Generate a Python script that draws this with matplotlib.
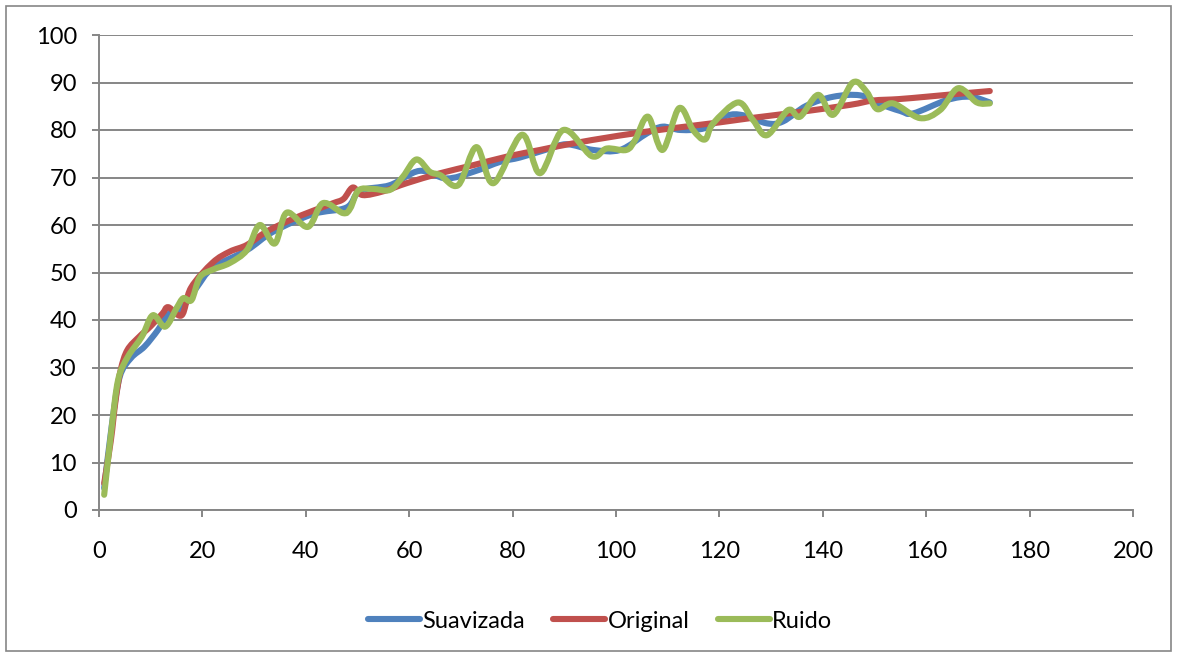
import numpy as np
import matplotlib
matplotlib.use("Agg")
import matplotlib.pyplot as plt
from matplotlib.path import Path
from matplotlib.patches import PathPatch, Rectangle
from matplotlib.lines import Line2D

plt.rcParams['font.family'] = ['Lato', 'DejaVu Sans']

# Series values (x, y)
suav_x = [1, 2.5, 4, 6.2, 8.8, 11.4, 13.4, 16, 18.8, 22, 28.6, 33.7, 41.4, 47.9, 50.5,
          56.3, 62, 67.2, 72.4, 77.6, 81.4, 86.6, 90.5, 95.6, 100.8, 106, 109, 112.5,
          117.2, 121.4, 124.6, 129.2, 132.3, 136.8, 142, 147.2, 150.7, 155, 157.5, 164,
          168.5, 172.3]
suav_y = [4.6, 18, 28, 32, 34.4, 37.9, 41.2, 42.5, 46.7, 51, 54.7, 58.6, 62.3, 63.7, 67.2,
          68.4, 71.4, 69.8, 71.2, 73.3, 74.2, 75.9, 77.0, 75.8, 75.8, 79.3, 80.7, 80,
          80.4, 83.0, 83.1, 81.4, 81.8, 85.1, 87, 87.3, 85.6, 84, 83.5, 86.3,
          87, 85.8]

orig_x = [1, 2.3, 3.2, 4.2, 5.5, 7.8, 10, 12.3, 13.4, 16, 17.8, 22, 25.3, 28.6, 32.4,
          36.9, 41.4, 45.3, 47.3, 49.1, 51, 55, 59.5, 66, 72.4, 78.9, 85.3, 90.8, 100.5,
          110.4, 120, 126, 135.6, 145.3, 149.7, 154.6, 160, 166, 172.3]
orig_y = [5.6, 14.7, 23, 29.5, 33.7, 36.5, 38.7, 41.4, 42.7, 41.0, 46.8, 52.1, 54.4, 55.8, 58.6,
          61, 63, 64.6, 65.5, 67.9, 66.3, 67.1, 68.8, 70.9, 72.6, 74.4, 75.8, 77.0, 78.8,
          80.3, 81.6, 82.5, 83.8, 85.3, 86.2, 86.5, 87, 87.6, 88.2]

ruido_x = [1, 2.4, 3.7, 5.6, 8.3, 10.4, 12.8, 15, 16.3, 17.9, 19.5, 22, 25.3, 28.6, 31.1,
           34, 36.3, 40.4, 43.3, 47.2, 48.6, 50.2, 53, 56.3, 58.8, 61.4, 64, 66, 69.5,
           73, 76.3, 81.8, 85.3, 89.8, 95.3, 98.2, 102, 103.7, 106.2, 109, 112.2, 114.9,
           117.2, 118.8, 123.6, 126.5, 129.2, 133.3, 135.6, 139.1, 142, 145.8, 148.5,
           150.5, 153.6, 158.8, 162.7, 166.2, 169.8, 172.3]
ruido_y = [3.2, 16.8, 27.4, 32.3, 36.5, 41, 38.6, 42.5, 44.6, 44.2, 49, 50.6, 52, 54.7, 60,
           56.1, 62.6, 59.6, 64.6, 62.5, 63.5, 67.3, 67.6, 67.4, 70.2, 73.8, 71.2, 70.5, 68.4,
           76.4, 68.8, 79, 70.9, 80, 74.5, 76.1, 75.8, 77.9, 82.8, 75.8, 84.6, 80,
           78, 81.4, 85.8, 82.1, 78.9, 84.2, 82.8, 87.4, 83.2, 90, 88,
           84.4, 85.6, 82.5, 84.2, 88.8, 85.8, 85.6]

series = [("Suavizada", suav_x, suav_y, "#4F81BD"),
          ("Original", orig_x, orig_y, "#C0504D"),
          ("Ruido", ruido_x, ruido_y, "#9BBB59")]

x_ticks = list(range(0, 201, 20))
y_ticks = list(range(0, 101, 10))
GRAY = "#868686"


def smooth_path(xs, ys):
    """Cubic Bezier through every point (Catmull-Rom style tangents)."""
    pts = np.column_stack([xs, ys]).astype(float)
    n = len(pts)
    verts = [pts[0]]
    codes = [Path.MOVETO]
    for i in range(n - 1):
        p0 = pts[i - 1] if i > 0 else pts[i]
        p1 = pts[i]
        p2 = pts[i + 1]
        p3 = pts[i + 2] if i + 2 < n else pts[i + 1]
        verts += [p1 + (p2 - p0) / 6.0, p2 - (p3 - p1) / 6.0, p2]
        codes += [Path.CURVE4] * 3
    return Path(verts, codes)


fig = plt.figure(figsize=(11.77, 6.55), dpi=100)
ax = fig.add_axes([99 / 1177, 1 - 510 / 655, (1133 - 99) / 1177, (510 - 35) / 655])

ax.set_xlim(0, 200)
ax.set_ylim(0, 100)
ax.set_xticks(x_ticks)
ax.set_yticks(y_ticks)
ax.yaxis.grid(True, color=GRAY, lw=1.4)
ax.set_axisbelow(True)
for s in ("top", "right"):
    ax.spines[s].set_visible(False)
for s in ("left", "bottom"):
    ax.spines[s].set_color(GRAY)
    ax.spines[s].set_linewidth(1.4)
ax.tick_params(axis="both", direction="out", length=5, width=1.4, color=GRAY,
               labelsize=17, labelcolor="black")
ax.tick_params(axis="x", pad=17)
ax.tick_params(axis="y", pad=11)

handles = []
for name, xs, ys, col in series:
    patch = PathPatch(smooth_path(xs, ys), facecolor="none", edgecolor=col, lw=4.4,
                      capstyle="round", joinstyle="round", transform=ax.transData)
    ax.add_patch(patch)
    handles.append(Line2D([], [], color=col, lw=4.4, solid_capstyle="round", label=name))

fig.legend(handles=handles, loc="center", bbox_to_anchor=(600 / 1177, 1 - 621 / 655),
           ncol=3, frameon=False, fontsize=17, handlelength=2.2, handletextpad=0.1,
           columnspacing=1.2)

fig.patches.append(Rectangle((5.5 / 1177, 1 - 651 / 655), 1165 / 1177, 645.5 / 655,
                             transform=fig.transFigure, fill=False, edgecolor=GRAY, lw=1.2))

fig.savefig("out.png", dpi=100)
